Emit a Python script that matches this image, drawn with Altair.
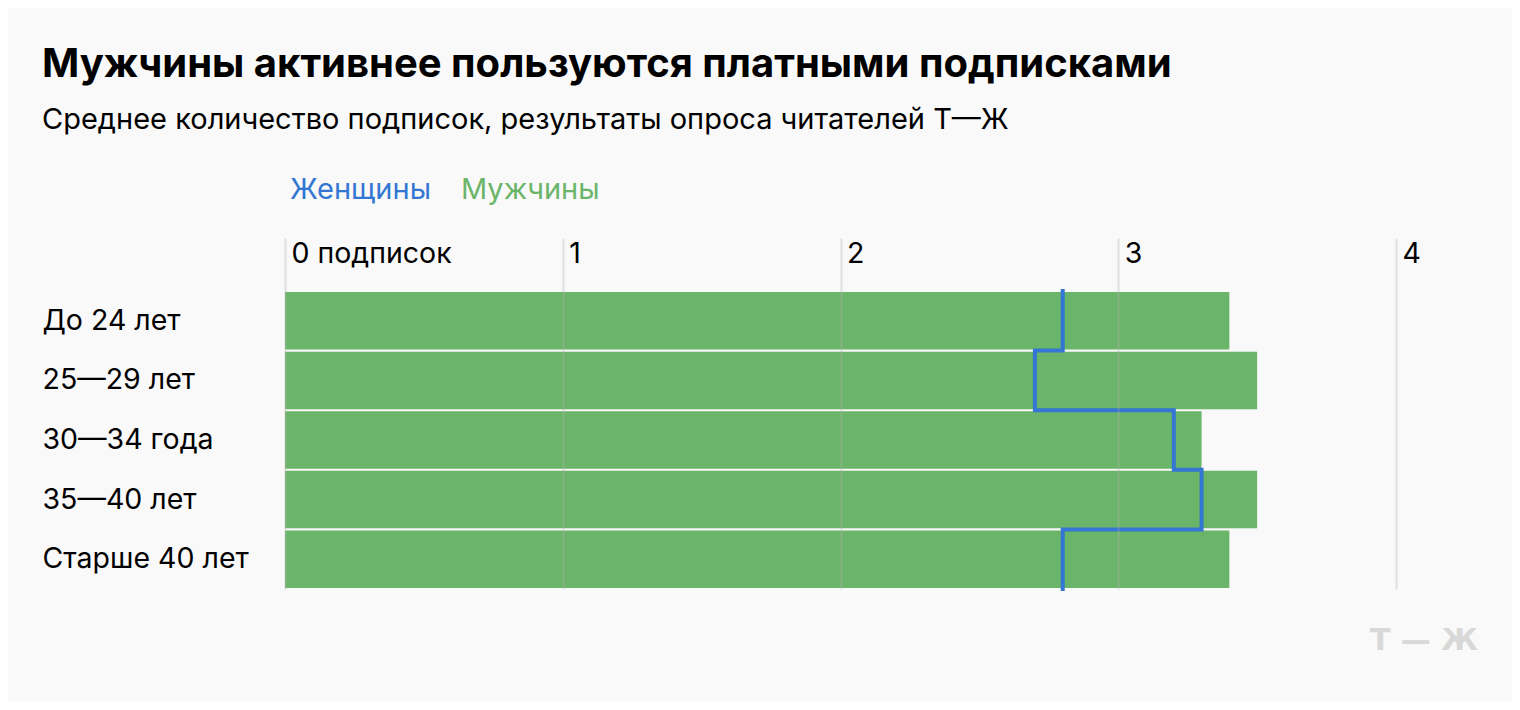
import altair as alt
import pandas as pd

categories = ["До 24 лет", "25—29 лет", "30—34 года", "35—40 лет", "Старше 40 лет"]
men = [3.4, 3.5, 3.3, 3.5, 3.4]
women = [2.8, 2.7, 3.2, 3.3, 2.8]
tick_values = [0, 1, 2, 3, 4]
series = ["Женщины", "Мужчины"]
series_colors = ["#3376d3", "#6bb56a"]

GREEN = "#6bb56a"
BLUE = "#3376d3"
FONT = "Inter"

bars_df = pd.DataFrame({"cat": categories, "men": men, "series": "Мужчины"})

# step path for women: vertical segment through each row, horizontal joins at row boundaries
rows = []
order = 0
for i, w in enumerate(women):
    rows.append({"x": w, "pos": i, "order": order}); order += 1
    rows.append({"x": w, "pos": i + 1, "order": order}); order += 1
step_df = pd.DataFrame(rows)

W, H = 1111, 298

color_scale = alt.Scale(domain=series, range=series_colors)
x_scale = alt.Scale(domain=[0, 4], nice=False)

bars = alt.Chart(bars_df).mark_bar(color=GREEN).encode(
    y=alt.Y("cat:N", sort=categories,
            scale=alt.Scale(paddingInner=0.035, paddingOuter=0.0175),
            axis=alt.Axis(title=None, ticks=False, domain=False, labelAlign="left",
                          labelPadding=243, labelFont=FONT, labelFontSize=28.5, labelLimit=240,
                          labelColor="#000", labelBaseline="middle")),
    x=alt.X("men:Q", scale=x_scale,
            axis=alt.Axis(orient="top", title=None, values=tick_values, domain=False, format="d",
                          tickSize=53, tickColor="#b0b0b0", tickOpacity=0.35, tickWidth=2,
                          grid=True, gridColor="#b0b0b0", gridWidth=2, gridOpacity=0.35,
                          labelAlign="left", labelBaseline="alphabetic", labelPadding=-24,
                          labelOffset=6, labelFont=FONT, labelFontSize=28.5, labelColor="#000",
                          labelExpr="datum.value == 0 ? '0 подписок' : datum.label",
                          zindex=1)),
    color=alt.Color("series:N", scale=color_scale,
                    legend=alt.Legend(title=None, orient="none", legendX=-24, legendY=-116,
                                      direction="horizontal", symbolSize=0, symbolOpacity=0,
                                      symbolStrokeWidth=0, labelOffset=0, columnPadding=1,
                                      labelFont=FONT, labelFontSize=29,
                                      labelColor={"expr": "datum.label == 'Женщины' ? '#3376d3' : '#6bb56a'"})),
)

step = alt.Chart(step_df).mark_line(color=BLUE, strokeWidth=4, strokeCap="square").encode(
    x=alt.X("x:Q", scale=x_scale),
    y=alt.Y("pos:Q", scale=alt.Scale(domain=[0, 5], reverse=True, nice=False), axis=None),
    order="order:Q",
)

logo = alt.Chart(pd.DataFrame({"t": ["Т — Ж"]})).mark_text(
    font="DejaVu Sans", fontSize=30, fontWeight="bold", color="#d8d8d8", align="right",
    baseline="alphabetic"
).encode(text="t:N", x=alt.value(1193), y=alt.value(359))

chart = alt.layer(bars, step, logo).resolve_scale(y="independent").properties(
    width=W, height=H,
    padding={"left": 277, "top": 283, "right": 116, "bottom": 113},
    autosize=alt.AutoSizeParams(type="none"),
    background="#f9f9f9",
    title=alt.TitleParams(
        "Мужчины активнее пользуются платными подписками",
        subtitle="Среднее количество подписок, результаты опроса читателей Т—Ж",
        anchor="start", frame="bounds", font=FONT, fontSize=40, fontWeight="bold",
        color="#000", subtitleFont=FONT, subtitleFontSize=29, subtitleColor="#000",
        subtitlePadding=21, offset=40,
    ),
).configure_view(stroke=None)

chart.save("out.html", embed_options={"renderer": "svg", "actions": False})
